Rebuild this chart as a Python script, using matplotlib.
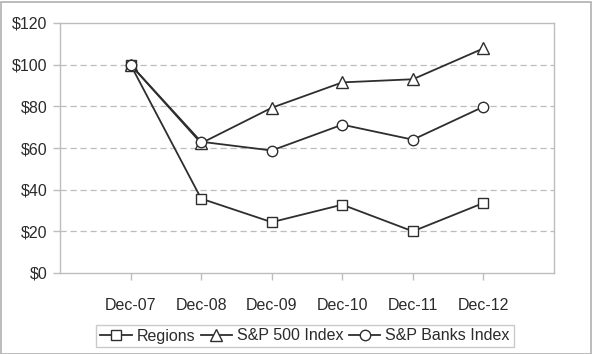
import matplotlib
matplotlib.use("Agg")
import matplotlib.pyplot as plt
from matplotlib.patches import Rectangle

categories = ["Dec-07", "Dec-08", "Dec-09", "Dec-10", "Dec-11", "Dec-12"]
regions = [100, 35.7, 24.4, 32.8, 20.0, 33.6]
sp500 = [100, 62.3, 79.3, 91.5, 93.0, 107.8]
sp_banks = [100, 63.0, 58.8, 71.2, 64.0, 79.8]
yticks = [0, 20, 40, 60, 80, 100, 120]
ytick_labels = ["$0", "$20", "$40", "$60", "$80", "$100", "$120"]

plt.rcParams['font.family'] = ['Liberation Sans', 'DejaVu Sans']
txt = "#2b2b2b"
line_c = "#2e2e2e"
grid_c = "#bdbdbd"
fs = 11.5

fig = plt.figure(figsize=(5.92, 3.54), dpi=100)
ax = fig.add_axes([60/592, 1-273/354, (554-60)/592, (273-23)/354])

x = list(range(1, len(categories) + 1))
mk = dict(markerfacecolor="white", markeredgecolor=line_c, markeredgewidth=1.0, color=line_c, linewidth=1.3)
ax.plot(x, regions, marker="s", markersize=7, label="Regions", zorder=3, **mk)
ax.plot(x, sp500, marker="^", markersize=8, label="S&P 500 Index", zorder=3, **mk)
ax.plot(x, sp_banks, marker="o", markersize=7.5, label="S&P Banks Index", zorder=4, **mk)

ax.set_xlim(0, 7)
ax.set_ylim(0, 120)
ax.set_xticks(x)
ax.set_xticklabels(categories)
ax.set_yticks(yticks)
ax.set_yticklabels(ytick_labels)
ax.tick_params(axis="both", colors=grid_c, labelcolor=txt, labelsize=fs, length=5, width=1)
ax.tick_params(axis="x", pad=13)
ax.tick_params(axis="y", pad=4)
for v in yticks[1:-1]:
    ax.axhline(v, color=grid_c, linestyle=(0, (5, 3)), linewidth=0.9, zorder=1)
for s in ax.spines.values():
    s.set_color(grid_c)
    s.set_linewidth(1)

leg = fig.legend(loc="center", bbox_to_anchor=(305/592, 1-336/354), ncol=3, frameon=True,
                 fontsize=fs, handlelength=2.0, handletextpad=0.3, columnspacing=0.3,
                 borderpad=0.25, fancybox=False, labelcolor=txt)
leg.get_frame().set_edgecolor(grid_c)
leg.get_frame().set_linewidth(1)

fig.patches.append(Rectangle((0.5/592, 0.5/354), 1-2/592, 1-2/354, transform=fig.transFigure,
                             fill=False, edgecolor="#b0b0b0", linewidth=1.2))
fig.savefig("out.png", dpi=100)
